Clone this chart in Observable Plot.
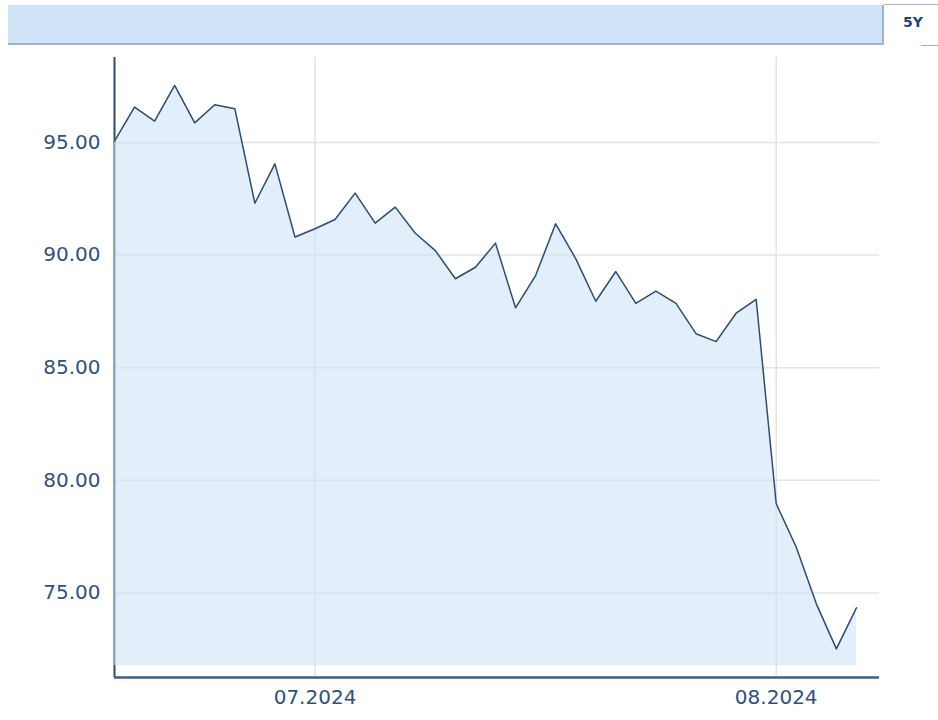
<!DOCTYPE html>
<html>
<head>
<meta charset="utf-8">
<script src="https://cdn.jsdelivr.net/npm/d3@7"></script>
<script src="https://cdn.jsdelivr.net/npm/@observablehq/plot@0.6"></script>
<style>
  html, body { margin: 0; padding: 0; background: #fff; width: 938px; height: 720px; overflow: hidden; }
  #bar { position: absolute; left: 8px; top: 5px; width: 874px; height: 38px; background: #cfe5f7;
         border-bottom: 2px solid #9bb3cb; border-right: 2px solid #9bb3cb; }
  #tab { position: absolute; left: 884px; top: 4px; width: 54px; height: 40px; background: #fff;
         border-top: 1px solid #9bb3cb; font-family: "DejaVu Sans", sans-serif; font-weight: bold;
         font-size: 14px; color: #23466f; box-sizing: border-box; padding: 9px 0 0 19px; }
  #tabline { position: absolute; left: 921px; top: 45px; width: 17px; height: 1px; background: #9bb3cb; }
  #chart { position: absolute; left: 0; top: 48px; }
</style>
</head>
<body>
<div id="bar"></div>
<div id="tab">5Y</div>
<div id="tabline"></div>
<div id="chart"></div>
<script>
const dates = [
  "2024-06-17","2024-06-18","2024-06-19","2024-06-20","2024-06-21",
  "2024-06-24","2024-06-25","2024-06-26","2024-06-27","2024-06-28",
  "2024-07-01","2024-07-02","2024-07-03","2024-07-04","2024-07-05",
  "2024-07-08","2024-07-09","2024-07-10","2024-07-11","2024-07-12",
  "2024-07-15","2024-07-16","2024-07-17","2024-07-18","2024-07-19",
  "2024-07-22","2024-07-23","2024-07-24","2024-07-25","2024-07-26",
  "2024-07-29","2024-07-30","2024-07-31","2024-08-01","2024-08-02",
  "2024-08-05","2024-08-06","2024-08-07"
];
const prices = [
  95.06, 96.57, 95.95, 97.53, 95.87,
  96.67, 96.50, 92.30, 94.05, 90.80,
  91.17, 91.58, 92.75, 91.42, 92.13,
  90.97, 90.20, 88.95, 89.46, 90.53,
  87.66, 89.09, 91.39, 89.84, 87.95,
  89.27, 87.86, 88.40, 87.86, 86.51,
  86.16, 87.42, 88.03, 78.96, 77.03,
  74.52, 72.52, 74.34
];
const xTickDates = ["2024-07-01", "2024-08-01"];
const xTickLabels = ["07.2024", "08.2024"];
const yTicks = [75, 80, 85, 90, 95];
const yDomain = [71.25, 98.77];
const areaBase = 71.77;

const data = dates.map((d, i) => ({i, date: d, v: prices[i]}));
const xTicks = xTickDates.map(d => dates.indexOf(d));
const xLabel = new Map(xTicks.map((t, k) => [t, xTickLabels[k]]));

const chart = Plot.plot({
  width: 938,
  height: 672,
  marginLeft: 114,
  marginRight: 59,
  marginTop: 9,
  marginBottom: 43,
  style: {fontFamily: "'DejaVu Sans', sans-serif", fontSize: "20px", color: "#2e5180", background: "transparent"},
  x: {domain: [0, dates.length + 0.15], axis: null, label: null},
  y: {domain: yDomain, axis: null, label: null},
  marks: [
    Plot.gridY(yTicks, {stroke: "#e3e3e3", strokeOpacity: 1, strokeWidth: 1.5}),
    Plot.gridX(xTicks, {stroke: "#e3e3e3", strokeOpacity: 1, strokeWidth: 1.5}),
    Plot.ruleX([0], {stroke: "#2b4c74", strokeWidth: 2}),
    Plot.areaY(data, {x: "i", y1: () => areaBase, y2: "v", fill: "#cfe3f7", fillOpacity: 0.6}),
    Plot.lineY(data, {x: "i", y: "v", stroke: "#2b4c74", strokeWidth: 1.5}),
    Plot.ruleY([yDomain[0]], {stroke: "#3a5f8a", strokeWidth: 2.5}),
    Plot.axisY(yTicks, {tickSize: 0, tickPadding: 14, tickFormat: d => d.toFixed(2), fontSize: 20, label: null}),
    Plot.axisX(xTicks, {tickSize: 0, tickPadding: 12, tickFormat: d => xLabel.get(d), fontSize: 20, label: null})
  ]
});
document.getElementById("chart").appendChild(chart);
</script>
</body>
</html>
